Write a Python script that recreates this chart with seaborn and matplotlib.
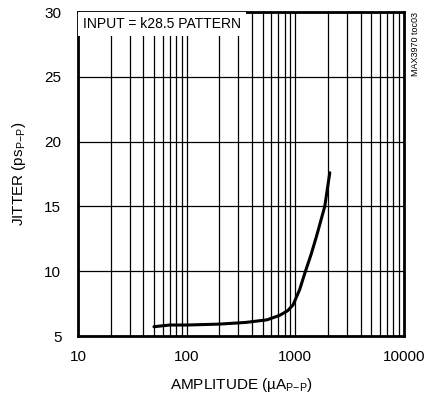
import matplotlib
matplotlib.use("Agg")
import matplotlib.pyplot as plt
import seaborn as sns
import pandas as pd
from matplotlib import font_manager
from matplotlib.ticker import LogLocator, FixedLocator, NullFormatter

amplitude = [50, 70, 100, 200, 350, 550, 720, 850, 955, 1100, 1225, 1400, 1570, 1870, 2080]
jitter = [5.72, 5.85, 5.85, 5.92, 6.05, 6.25, 6.6, 6.95, 7.4, 8.6, 9.85, 11.3, 12.7, 15.0, 17.6]
x_ticks = [10, 100, 1000, 10000]
x_ticklabels = ["10", "100", "1000", "10000"]
y_ticks = [5, 10, 15, 20, 25, 30]

sns.set_style("white")
names = {f.name for f in font_manager.fontManager.ttflist}
fam = "Liberation Sans Narrow" if "Liberation Sans Narrow" in names else "Liberation Sans"
plt.rcParams['font.family'] = [fam, 'DejaVu Sans']
plt.rcParams['mathtext.fontset'] = 'custom'
plt.rcParams['mathtext.rm'] = fam
for k in ['text.color', 'axes.labelcolor', 'xtick.color', 'ytick.color']:
    plt.rcParams[k] = 'black'

df = pd.DataFrame({"amp": amplitude, "jit": jitter})

fig = plt.figure(figsize=(4.31, 4.01), dpi=100)
ax = fig.add_axes([0.181, 0.162, 0.756, 0.808])
ax.set_xscale("log")
ax.set_xlim(10, 10000)
ax.set_ylim(5, 30)

ax.xaxis.set_major_locator(FixedLocator(x_ticks))
ax.set_xticklabels(x_ticklabels)
ax.xaxis.set_minor_locator(LogLocator(base=10, subs=range(2, 10)))
ax.xaxis.set_minor_formatter(NullFormatter())
ax.set_yticks(y_ticks)
ax.grid(True, which="both", axis="x", color="black", lw=0.9)
ax.grid(True, which="major", axis="y", color="black", lw=0.9)
ax.tick_params(which="both", length=0, labelsize=11, labelcolor="black")
ax.tick_params(axis="x", pad=10)
ax.tick_params(axis="y", pad=12)

sns.lineplot(data=df, x="amp", y="jit", ax=ax, color="black", lw=2.2)

for s in ax.spines.values():
    s.set_linewidth(2)
    s.set_color("black")

ax.set_xlabel("AMPLITUDE (\u00b5A$_{\\mathregular{P{-}P}}$)", fontsize=11, labelpad=9, color="black")
ax.set_ylabel("JITTER (ps$_{\\mathregular{P{-}P}}$)", fontsize=11, labelpad=12, color="black")

ax.text(0.015, 0.985, "INPUT = k28.5 PATTERN", transform=ax.transAxes, ha="left", va="top",
        fontsize=10, color="black", bbox=dict(facecolor="white", edgecolor="none", pad=3.5), zorder=5)

fig.text(0.963, 0.97, "MAX3970 toc03", rotation=90, ha="center", va="top", fontsize=6.5, color="black")

fig.savefig("out.png", dpi=100)
